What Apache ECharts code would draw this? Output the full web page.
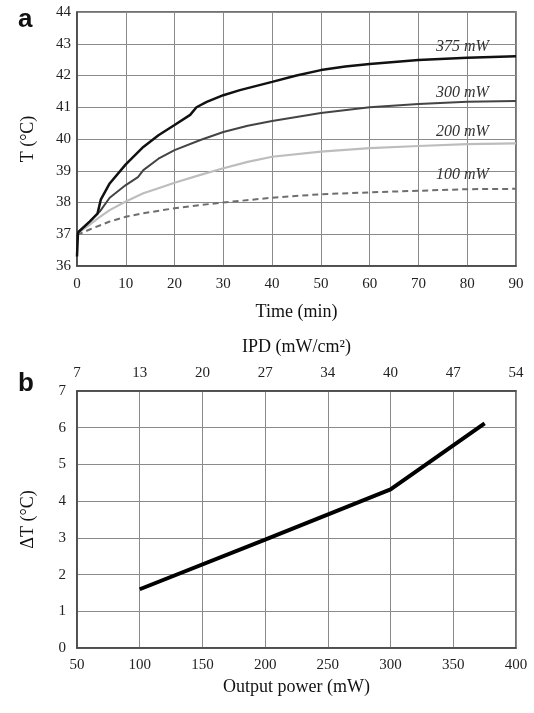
<!DOCTYPE html>
<html>
<head>
<meta charset="utf-8">
<script src="https://cdn.jsdelivr.net/npm/echarts@6/dist/echarts.min.js"></script>
<style>
  html, body { margin: 0; padding: 0; background: #fff; }
  #main { width: 534px; height: 713px; }
</style>
</head>
<body>
<div id="main"></div>
<script>
// panel a: temperature vs time, [min, °C]
const p375 = [[0, 36.3], [0.2, 37.05], [2.6, 37.4], [4.2, 37.65], [4.9, 38.1], [6.7, 38.6], [10, 39.2], [13.6, 39.75],
  [16.7, 40.12], [20, 40.44], [23.2, 40.76], [24.5, 41.0], [26.6, 41.17], [30, 41.38], [33.4, 41.54], [40, 41.8],
  [45, 42.0], [50, 42.17], [55, 42.28], [60, 42.36], [70, 42.49], [80, 42.56], [90, 42.61]]
const p300 = [[0, 37.05], [2.6, 37.4], [4.7, 37.72], [6.7, 38.15], [10, 38.55], [12.5, 38.8], [13.6, 39.02], [16.7, 39.38],
  [20, 39.65], [25.3, 39.97], [30, 40.22], [35, 40.42], [40, 40.57], [50, 40.82], [60, 41.0], [70, 41.1], [80, 41.17], [90, 41.2]]
const p200 = [[0, 37.03], [2.6, 37.3], [4.7, 37.55], [6.7, 37.76], [10, 38.03], [13.6, 38.29], [16.7, 38.45], [20, 38.62],
  [25.3, 38.87], [30, 39.08], [35, 39.28], [40, 39.44], [50, 39.6], [60, 39.71], [70, 39.78], [80, 39.84], [90, 39.86]]
const p100 = [[0, 36.98], [2.6, 37.15], [6.7, 37.4], [10, 37.55], [13.6, 37.66], [20, 37.82], [25.3, 37.92], [30, 38.0],
  [40, 38.15], [50, 38.26], [60, 38.32], [70, 38.37], [80, 38.42], [90, 38.43]]
const curveNames = ['375 mW', '300 mW', '200 mW', '100 mW']
// where each curve name sits, [min, °C]
const curveLabelAt = [[79, 42.91], [79, 41.44], [79, 40.23], [79, 38.87]]

// panel b: temperature rise vs output power
const power = [100, 200, 300, 375]
const deltaT = [1.6, 2.95, 4.32, 6.12]
const ipdLabels = ['7', '13', '20', '27', '34', '40', '47', '54']

const FONT = 'Liberation Serif'
const gridLine = { show: true, lineStyle: { color: '#8a8a8a', width: 1 } }
const tickLabel = { color: '#222', fontFamily: FONT, fontSize: 15 }
const axisName = { color: '#111', fontFamily: FONT, fontSize: 18 }

const chart = echarts.init(document.getElementById('main'))

const curveSeries = (name, data, color, width, type, idx) => ({
  name,
  type: 'line',
  xAxisIndex: 0,
  yAxisIndex: 0,
  data,
  showSymbol: false,
  smooth: false,
  lineStyle: { color, width, type },
  z: 5 - idx,
  markPoint: {
    symbolSize: 0,
    data: [{ coord: curveLabelAt[idx] }],
    label: {
      show: true,
      position: 'inside',
      formatter: name,
      color: '#333',
      fontFamily: FONT,
      fontStyle: 'italic',
      fontSize: 16
    }
  }
})

chart.setOption({
  animation: false,
  title: [
    { text: 'a', left: 13, top: 2, textStyle: { fontFamily: 'Liberation Sans', fontWeight: 'bold', fontSize: 26, color: '#111' } },
    { text: 'b', left: 13, top: 366, textStyle: { fontFamily: 'Liberation Sans', fontWeight: 'bold', fontSize: 26, color: '#111' } }
  ],
  grid: [
    { left: 77, top: 12, width: 439, height: 254, show: true, borderColor: '#444', borderWidth: 1.5 },
    { left: 77, top: 391, width: 439, height: 257, show: true, borderColor: '#444', borderWidth: 1.5 }
  ],
  xAxis: [
    {
      gridIndex: 0, type: 'value', min: 0, max: 90, interval: 10,
      name: 'Time (min)', nameLocation: 'middle', nameGap: 37, nameTextStyle: axisName,
      axisLine: { show: true, lineStyle: { color: '#444', width: 1.5 } },
      axisTick: { show: false },
      axisLabel: Object.assign({ margin: 11 }, tickLabel),
      splitLine: gridLine
    },
    {
      gridIndex: 1, type: 'value', min: 50, max: 400, interval: 50, position: 'bottom',
      name: 'Output power (mW)', nameLocation: 'middle', nameGap: 30, nameTextStyle: axisName,
      axisLine: { show: true, lineStyle: { color: '#444', width: 1.5 } },
      axisTick: { show: false },
      axisLabel: Object.assign({ margin: 10 }, tickLabel),
      splitLine: gridLine
    },
    {
      gridIndex: 1, type: 'value', min: 50, max: 400, interval: 50, position: 'top',
      name: 'IPD (mW/cm²)', nameLocation: 'middle', nameGap: 35, nameTextStyle: axisName,
      axisLine: { show: true, lineStyle: { color: '#444', width: 1.5 } },
      axisTick: { show: false },
      axisLabel: Object.assign({ margin: 10, formatter: v => ipdLabels[Math.round((v - 50) / 50)] }, tickLabel),
      splitLine: { show: false }
    }
  ],
  yAxis: [
    {
      gridIndex: 0, type: 'value', min: 36, max: 44, interval: 1,
      name: 'T (°C)', nameLocation: 'middle', nameGap: 40, nameTextStyle: axisName,
      axisLine: { show: true, lineStyle: { color: '#444', width: 1.5 } },
      axisTick: { show: false },
      axisLabel: Object.assign({ margin: 6 }, tickLabel),
      splitLine: gridLine
    },
    {
      gridIndex: 1, type: 'value', min: 0, max: 7, interval: 1,
      name: 'ΔT (°C)', nameLocation: 'middle', nameGap: 40, nameTextStyle: axisName,
      axisLine: { show: true, lineStyle: { color: '#444', width: 1.5 } },
      axisTick: { show: false },
      axisLabel: Object.assign({ margin: 11 }, tickLabel),
      splitLine: gridLine
    }
  ],
  series: [
    curveSeries(curveNames[0], p375, '#111', 2.5, 'solid', 0),
    curveSeries(curveNames[1], p300, '#444', 2, 'solid', 1),
    curveSeries(curveNames[2], p200, '#bdbdbd', 2.2, 'solid', 2),
    curveSeries(curveNames[3], p100, '#6e6e6e', 2, [6, 4], 3),
    {
      name: 'ΔT',
      type: 'line',
      xAxisIndex: 1,
      yAxisIndex: 1,
      data: power.map((p, i) => [p, deltaT[i]]),
      showSymbol: false,
      lineStyle: { color: '#000', width: 4 },
      z: 5
    }
  ]
})
</script>
</body>
</html>
